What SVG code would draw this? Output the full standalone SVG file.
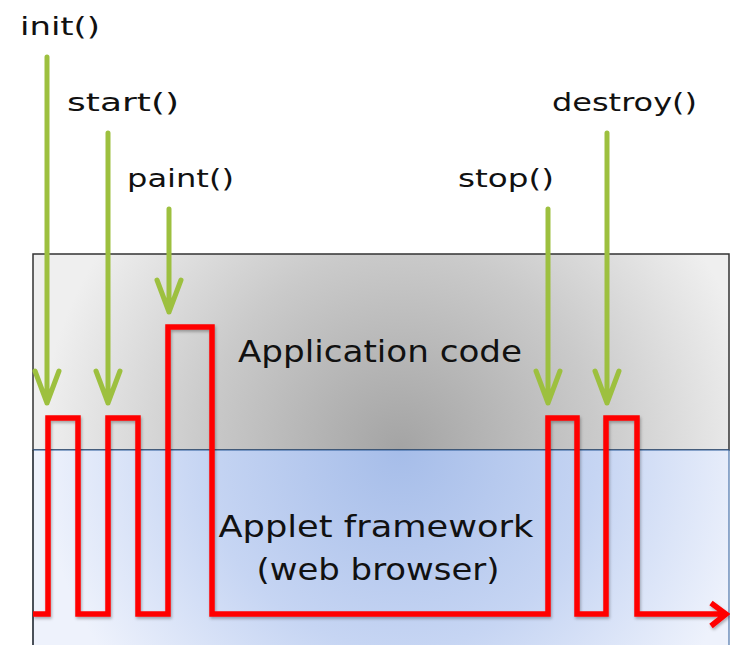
<svg xmlns="http://www.w3.org/2000/svg" width="730" height="645" viewBox="0 0 730 645">
<style>
.lbl{font-family:"Comic Sans MS","DejaVu Sans",sans-serif;fill:#111}
.small{font-size:25px}
.big{font-size:30px}
.green{stroke:#9dc03f;stroke-width:5;fill:none;stroke-linecap:round;stroke-linejoin:round}
.red{stroke:#ff0000;stroke-width:5.5;fill:none;stroke-linejoin:miter}
</style>
<defs>
<radialGradient id="gGray" gradientUnits="userSpaceOnUse" cx="400" cy="450" r="360">
<stop offset="0" stop-color="#a4a4a4"/>
<stop offset="0.55" stop-color="#cacaca"/>
<stop offset="1" stop-color="#efefef"/>
</radialGradient>
<radialGradient id="gBlue" gradientUnits="userSpaceOnUse" cx="400" cy="450" r="360">
<stop offset="0" stop-color="#a6bde9"/>
<stop offset="0.55" stop-color="#c6d5f3"/>
<stop offset="1" stop-color="#eef2fc"/>
</radialGradient>
<filter id="sh" x="-5%" y="-5%" width="110%" height="110%">
<feDropShadow dx="1" dy="2" stdDeviation="1.5" flood-color="#000" flood-opacity="0.3"/>
</filter>
</defs>
<rect width="730" height="645" fill="#ffffff"/>
<g id="app-code">
<rect x="33" y="254" width="696" height="196" fill="url(#gGray)" stroke="#333" stroke-width="1.5"/>
<text class="lbl big" x="380" y="362" text-anchor="middle" textLength="284" lengthAdjust="spacingAndGlyphs">Application code</text>
</g>
<g id="framework">
<rect x="33" y="450" width="696" height="200" fill="url(#gBlue)" stroke="#2d5d9a" stroke-width="1"/>
<line x1="33" y1="450" x2="33" y2="645" stroke="#333" stroke-width="1.5"/>
<text class="lbl big" x="376" y="537" text-anchor="middle" textLength="315" lengthAdjust="spacingAndGlyphs">Applet framework</text>
<text class="lbl big" x="378" y="580" text-anchor="middle" textLength="243" lengthAdjust="spacingAndGlyphs">(web browser)</text>
</g>
<g id="labels">
<text id="init" class="lbl small" x="20" y="35" textLength="80" lengthAdjust="spacingAndGlyphs">init()</text>
<text id="start" class="lbl small" x="67" y="111" textLength="112" lengthAdjust="spacingAndGlyphs">start()</text>
<text id="paint" class="lbl small" x="127" y="187" textLength="107" lengthAdjust="spacingAndGlyphs">paint()</text>
<text id="stop" class="lbl small" x="458" y="187" textLength="96" lengthAdjust="spacingAndGlyphs">stop()</text>
<text id="destroy" class="lbl small" x="552" y="111" textLength="145" lengthAdjust="spacingAndGlyphs">destroy()</text>
</g>
<g id="connectors">
<path class="red" filter="url(#sh)" d="M33,614 H48 V418 H78 V614 H108 V418 H138 V614 H168 V327 H212 V614 H548 V418 H577 V614 H606 V418 H637 V614 H726 M711,603 L726,614 L711,626"/>
<path class="green" d="M47,57 V403 M35,371 L47,403 L59,371"/>
<path class="green" d="M108,133 V403 M96,371 L108,403 L120,371"/>
<path class="green" d="M169,209 V312 M157,280 L169,312 L181,280"/>
<path class="green" d="M548,209 V403 M536,371 L548,403 L560,371"/>
<path class="green" d="M607,133 V403 M595,371 L607,403 L619,371"/>
</g>
</svg>
